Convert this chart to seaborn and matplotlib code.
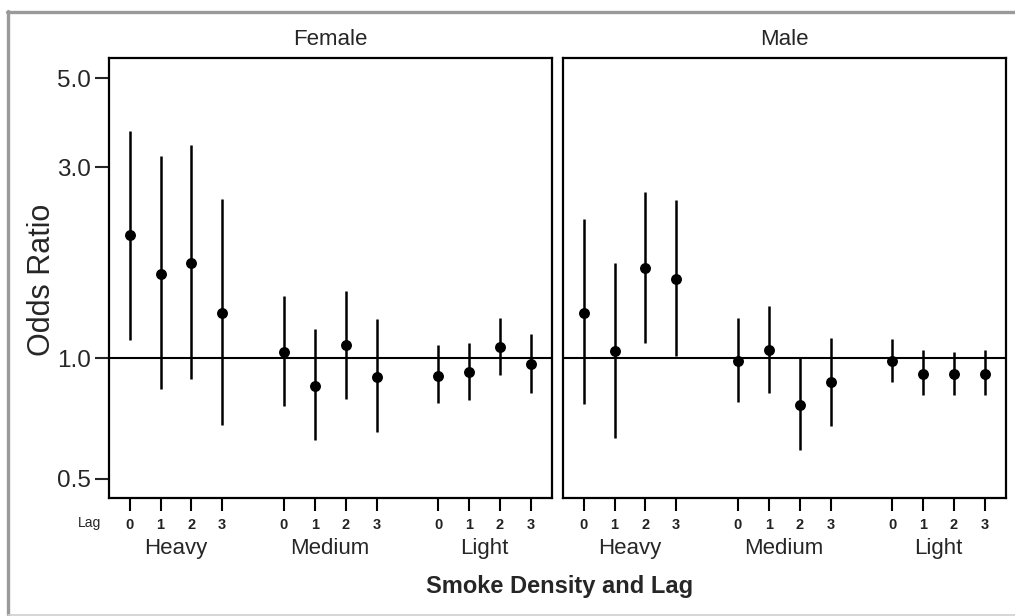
import numpy as np
import pandas as pd
import matplotlib
matplotlib.use("Agg")
import matplotlib.pyplot as plt
from matplotlib.lines import Line2D
import matplotlib.transforms as mtransforms
import seaborn as sns

# ---------------- data ----------------
panels = ["Female", "Male"]
densities = ["Heavy", "Medium", "Light"]
lags = [0, 1, 2, 3]
lag_labels = ["0", "1", "2", "3"]
y_ticks = [0.5, 1.0, 3.0, 5.0]
y_tick_labels = ["0.5", "1.0", "3.0", "5.0"]

# order: Heavy 0-3, Medium 0-3, Light 0-3
female_or = [2.03, 1.62, 1.73, 1.30, 1.035, 0.854, 1.078, 0.898, 0.905, 0.923, 1.069, 0.969]
female_lo = [1.11, 0.838, 0.888, 0.683, 0.760, 0.625, 0.791, 0.655, 0.772, 0.787, 0.910, 0.818]
female_hi = [3.69, 3.20, 3.41, 2.50, 1.43, 1.18, 1.475, 1.25, 1.081, 1.09, 1.263, 1.152]

male_or = [1.30, 1.043, 1.68, 1.575, 0.985, 1.051, 0.763, 0.871, 0.985, 0.914, 0.914, 0.914]
male_lo = [0.768, 0.631, 1.092, 1.013, 0.779, 0.818, 0.589, 0.678, 0.874, 0.811, 0.811, 0.811]
male_hi = [2.23, 1.73, 2.60, 2.48, 1.263, 1.35, 1.00, 1.126, 1.115, 1.047, 1.037, 1.047]

rows = []
for sex, ors, los, his in [("Female", female_or, female_lo, female_hi),
                           ("Male", male_or, male_lo, male_hi)]:
    i = 0
    for d in densities:
        for lag in lags:
            rows.append(dict(sex=sex, density=d, lag=lag,
                             odds=ors[i], lo=los[i], hi=his[i]))
            i += 1
df = pd.DataFrame(rows)
df["pos"] = df["density"].map({d: k for k, d in enumerate(densities)}) * 5 + df["lag"]

# ---------------- style ----------------
sns.set_theme(style="white")
plt.rcParams["font.family"] = ["Liberation Sans", "DejaVu Sans"]

W, H = 1015, 616
fig = plt.figure(figsize=(W / 100, H / 100), dpi=100)
fig.patch.set_facecolor("white")

# panel pixel geometry
top_px, bot_px = 58.3, 498.3
panel_w = 442.5
lefts = [109.3, 563.3]

ymin, ymax = 0.447, 5.61
xmin, xmax = -0.66, 13.68

for pi, sex in enumerate(panels):
    ax = fig.add_axes([lefts[pi] / W, 1 - bot_px / H, panel_w / W, (bot_px - top_px) / H])
    sub = df[df["sex"] == sex]
    ax.set_yscale("log")
    ax.axhline(1.0, color="black", lw=1.5, zorder=1)
    ax.vlines(sub["pos"], sub["lo"], sub["hi"], color="black", lw=1.8, zorder=2)
    sns.scatterplot(data=sub, x="pos", y="odds", ax=ax, color="black",
                    marker="o", s=62, edgecolor="black", linewidth=0, zorder=3,
                    legend=False)
    ax.set_xlim(xmin, xmax)
    ax.set_ylim(ymin, ymax)

    # x ticks
    xt = sorted(df["pos"].unique())
    ax.set_xticks(xt)
    ax.set_xticklabels(lag_labels * len(densities), fontsize=10.5, fontweight="bold")
    ax.tick_params(axis="x", direction="out", length=9.5, width=1.5, pad=5,
                   bottom=True, colors="black")
    for lbl in ax.get_xticklabels():
        lbl.set_color("#222222")

    # y ticks
    ax.yaxis.set_minor_locator(matplotlib.ticker.NullLocator())
    if pi == 0:
        ax.set_yticks(y_ticks)
        ax.set_yticklabels(y_tick_labels, fontsize=17.5)
        ax.tick_params(axis="y", direction="out", length=10, width=1.5, pad=3,
                       left=True)
    else:
        ax.set_yticks([])
    ax.set_xlabel("")
    ax.set_ylabel("")

    for sp in ax.spines.values():
        sp.set_color("black")
        sp.set_linewidth(1.6)

    # panel title
    ax.text(0.5, 1 + (top_px - 39.5) / (bot_px - top_px), sex, transform=ax.transAxes,
            ha="center", va="center", fontsize=16)

    # density group labels
    trans = mtransforms.blended_transform_factory(ax.transData, ax.transAxes)
    for k, d in enumerate(densities):
        cx = np.mean(sub.loc[sub["density"] == d, "pos"])
        ax.text(cx, -(548.5 - bot_px) / (bot_px - top_px), d, transform=trans,
                ha="center", va="center", fontsize=16)

    if pi == 0:
        ax.text(-0.018, -(523 - bot_px) / (bot_px - top_px), "Lag",
                transform=ax.transAxes, ha="right", va="center", fontsize=10)

# axis titles
fig.text(42 / W, 1 - 280 / H, "Odds Ratio", rotation=90, ha="center", va="center",
         fontsize=22)
fig.text(559.5 / W, 1 - 587 / H, "Smoke Density and Lag", ha="center", va="center",
         fontsize=17, fontweight="bold")

# outer gray frame
fig.add_artist(Line2D([8 / W, 8 / W], [1 - 11 / H, 1 - 616 / H], transform=fig.transFigure,
                      color="#9a9a9a", lw=2.4))
fig.add_artist(Line2D([6.8 / W, 1.0], [1 - 11.7 / H, 1 - 11.7 / H], transform=fig.transFigure,
                      color="#9a9a9a", lw=2.4))
fig.add_artist(Line2D([8 / W, 1.0], [1 - 615 / H, 1 - 615 / H], transform=fig.transFigure,
                      color="#d0d0d0", lw=1.2))

fig.savefig("out.png", dpi=100, facecolor="white")
